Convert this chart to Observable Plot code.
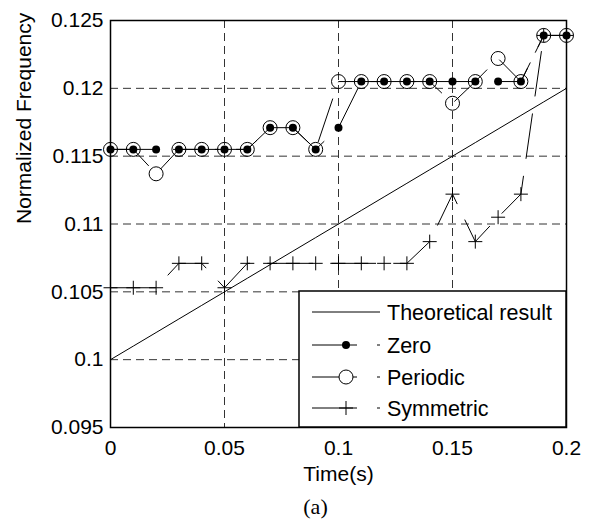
<!DOCTYPE html>
<html>
<head>
<meta charset="utf-8">
<script src="https://cdn.jsdelivr.net/npm/d3@7"></script>
<script src="https://cdn.jsdelivr.net/npm/@observablehq/plot@0.6"></script>
<style>
  html, body { margin: 0; padding: 0; background: #fff; }
  #chart { width: 590px; height: 521px; }
</style>
</head>
<body>
<div id="chart"></div>
<script>
// ---- data ----
const times = [0, 0.01, 0.02, 0.03, 0.04, 0.05, 0.06, 0.07, 0.08, 0.09, 0.10,
               0.11, 0.12, 0.13, 0.14, 0.15, 0.16, 0.17, 0.18, 0.19, 0.20];
const theoretical = [0.100, 0.101, 0.102, 0.103, 0.104, 0.105, 0.106, 0.107, 0.108, 0.109, 0.110,
                     0.111, 0.112, 0.113, 0.114, 0.115, 0.116, 0.117, 0.118, 0.119, 0.120];
const zeroPad = [0.1155, 0.1155, 0.1155, 0.1155, 0.1155, 0.1155, 0.1155, 0.1171, 0.1171, 0.1155, 0.1171,
                 0.1205, 0.1205, 0.1205, 0.1205, 0.1205, 0.1205, 0.1205, 0.1205, 0.1239, 0.1239];
const periodicPad = [0.1155, 0.1155, 0.1137, 0.1155, 0.1155, 0.1155, 0.1155, 0.1171, 0.1171, 0.1155, 0.1205,
                     0.1205, 0.1205, 0.1205, 0.1205, 0.1189, 0.1205, 0.1222, 0.1205, 0.1239, 0.1239];
const symmetricPad = [0.1053, 0.1053, 0.1053, 0.1071, 0.1071, 0.1053, 0.1071, 0.1071, 0.1071, 0.1071, 0.1071,
                      0.1071, 0.1071, 0.1071, 0.1087, 0.1122, 0.1087, 0.1105, 0.1122, 0.1239, 0.1239];
const seriesNames = ["Theoretical result", "Zero", "Periodic", "Symmetric"];
const xTicks = [0, 0.05, 0.1, 0.15, 0.2];
const xTickLabels = ["0", "0.05", "0.1", "0.15", "0.2"];
const yTicks = [0.095, 0.1, 0.105, 0.11, 0.115, 0.12, 0.125];
const yTickLabels = ["0.095", "0.1", "0.105", "0.11", "0.115", "0.12", "0.125"];
const xGrid = [0.05, 0.1, 0.15];
const yGrid = [0.1, 0.105, 0.11, 0.115, 0.12];
const xLabel = "Time(s)";
const yLabel = "Normalized Frequency";
const caption = "(a)";

// ---- table built from the arrays ----
const rows = times.map((t, i) => ({
  t, theo: theoretical[i], zero: zeroPad[i], per: periodicPad[i], sym: symmetricPad[i]
}));

const FONT = "'Liberation Sans', Arial, sans-serif";
const FS = 21;
const DASH = "45,18";
const GRID_DASH = "8,5";

const plusSymbol = {
  draw(ctx, size) {
    const r = Math.sqrt(size / Math.PI);
    ctx.moveTo(-r, 0); ctx.lineTo(r, 0);
    ctx.moveTo(0, -r); ctx.lineTo(0, r);
  }
};

const plot = Plot.plot({
  width: 590,
  height: 521,
  marginLeft: 110,
  marginRight: 24,
  marginTop: 20,
  marginBottom: 94,
  style: { fontFamily: FONT, fontSize: FS + "px", background: "#fff", color: "#000" },
  x: { domain: [0, 0.2] },
  y: { domain: [0.095, 0.125] },
  marks: [
    Plot.gridX(xGrid, { stroke: "#333", strokeOpacity: 1, strokeWidth: 1, strokeDasharray: GRID_DASH }),
    Plot.gridY(yGrid, { stroke: "#333", strokeOpacity: 1, strokeWidth: 1, strokeDasharray: GRID_DASH }),
    Plot.axisX({ ticks: xTicks, tickFormat: (d, i) => xTickLabels[i], tickSize: 0, tickPadding: 13, label: null, fontSize: FS }),
    Plot.axisY({ ticks: yTicks, tickFormat: (d, i) => yTickLabels[i], tickSize: 0, tickPadding: 7, label: null, fontSize: FS }),
    Plot.line(rows, { x: "t", y: "theo", stroke: "black", strokeWidth: 1 }),
    Plot.line(rows, { x: "t", y: "zero", stroke: "black", strokeWidth: 1, strokeDasharray: DASH }),
    Plot.dot(rows, { x: "t", y: "zero", r: 4, fill: "black", stroke: "none" }),
    Plot.line(rows, { x: "t", y: "per", stroke: "black", strokeWidth: 1, strokeDasharray: DASH }),
    Plot.dot(rows, { x: "t", y: "per", r: 7, fill: "none", stroke: "black", strokeWidth: 1 }),
    Plot.line(rows, { x: "t", y: "sym", stroke: "black", strokeWidth: 1, strokeDasharray: DASH }),
    Plot.dot(rows, { x: "t", y: "sym", r: 7, symbol: plusSymbol, fill: "none", stroke: "black", strokeWidth: 1 }),
    Plot.frame({ stroke: "black", strokeWidth: 1.5 }),
    Plot.text([xLabel], { frameAnchor: "bottom", dy: 53, fontSize: FS, fill: "black" }),
    Plot.text([caption], { frameAnchor: "bottom", dy: 86, dx: -23, fontSize: FS + 1, fontFamily: "'Liberation Serif', 'Times New Roman', serif", fill: "black" }),
    Plot.text([yLabel], { frameAnchor: "left", rotate: -90, dx: -86, fontSize: FS, fill: "black" })
  ]
});

document.getElementById("chart").appendChild(plot);

// ---- legend (inside the axes, lower right) ----
const svg = d3.select(plot);
const lg = svg.append("g").attr("font-family", FONT).attr("font-size", 21.5).attr("text-anchor", "start");
lg.append("rect").attr("x", 299).attr("y", 291).attr("width", 267).attr("height", 136)
  .attr("fill", "white").attr("stroke", "black").attr("stroke-width", 1.5);
const rowY = [312, 345, 377, 408];
seriesNames.forEach((name, i) => {
  const y = rowY[i];
  lg.append("line").attr("x1", 312).attr("x2", 380).attr("y1", y).attr("y2", y)
    .attr("stroke", "black").attr("stroke-width", 1)
    .attr("stroke-dasharray", i === 0 ? null : "45,20");
  if (i === 1) lg.append("circle").attr("cx", 346).attr("cy", y).attr("r", 4).attr("fill", "black");
  if (i === 2) lg.append("circle").attr("cx", 346).attr("cy", y).attr("r", 7).attr("fill", "white").attr("stroke", "black");
  if (i === 3) lg.append("path").attr("d", `M339,${y}H353M346,${y - 7}V${y + 7}`).attr("stroke", "black").attr("fill", "none");
  lg.append("text").attr("x", 387).attr("y", y).attr("dy", "0.35em").attr("fill", "black")
    .attr("text-anchor", "start").text(name);
});
</script>
</body>
</html>
